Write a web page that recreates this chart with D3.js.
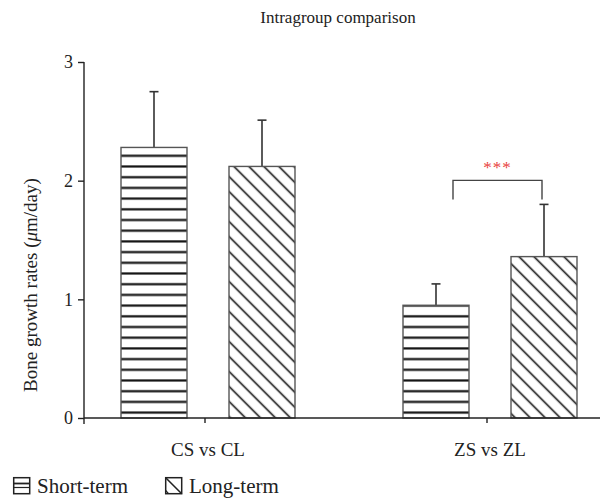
<!DOCTYPE html>
<html>
<head>
<meta charset="utf-8">
<script src="https://cdn.jsdelivr.net/npm/d3@7"></script>
<style>
  html, body { margin: 0; padding: 0; background: #fff; }
  svg { display: block; }
  text { font-family: "Liberation Serif", "DejaVu Serif", serif; fill: #222; }
</style>
</head>
<body>
<svg id="chart" width="604" height="500"></svg>
<script>
// ---- data ----
const groups = ["CS vs CL", "ZS vs ZL"];
const seriesNames = ["Short-term", "Long-term"];
const meanValues = [
  [2.28, 2.12],   // CS, CL
  [0.95, 1.36]    // ZS, ZL
];
const sdValues = [
  [0.47, 0.39],
  [0.18, 0.44]
];
const yTicks = [0, 1, 2, 3];
const title = "Intragroup comparison";
const significance = { group: "ZS vs ZL", label: "***" };

// ---- layout ----
const svg = d3.select("#chart");
const margin = { left: 84, right: 4, top: 62, bottom: 82 };
const W = 604, H = 500;
const plotBottom = H - margin.bottom; // 418
const axisColor = "#222";

const y = d3.scaleLinear().domain([0, 3]).range([plotBottom, margin.top]);
const x0 = d3.scaleBand().domain(groups).range([67, 631]).padding(0);
const x1 = d3.scaleBand().domain(seriesNames).range([0, x0.bandwidth()])
  .paddingInner(0.389).paddingOuter(0.5);

// ---- patterns ----
const defs = svg.append("defs");
const ph = defs.append("pattern").attr("id", "hatchH")
  .attr("patternUnits", "userSpaceOnUse").attr("width", 20).attr("height", 10.7)
  .attr("y", y(0));
ph.append("rect").attr("width", 20).attr("height", 10.7).attr("fill", "#fff");
ph.append("line").attr("x1", 0).attr("x2", 20).attr("y1", 5.3).attr("y2", 5.3)
  .attr("stroke", "#111").attr("stroke-width", 2.2);

const pd = defs.append("pattern").attr("id", "hatchD")
  .attr("patternUnits", "userSpaceOnUse").attr("width", 20).attr("height", 10.6)
  .attr("patternTransform", "rotate(45)");
pd.append("rect").attr("width", 20).attr("height", 10.6).attr("fill", "#fff");
pd.append("line").attr("x1", 0).attr("x2", 20).attr("y1", 5.3).attr("y2", 5.3)
  .attr("stroke", "#111").attr("stroke-width", 1.6);

const fills = { "Short-term": "url(#hatchH)", "Long-term": "url(#hatchD)" };

// ---- title ----
svg.append("text").attr("x", 338).attr("y", 23).attr("text-anchor", "middle")
  .style("font-size", "17px").text(title);

// ---- bars ----
const g = svg.append("g");
groups.forEach((grp, gi) => {
  seriesNames.forEach((s, si) => {
    const v = meanValues[gi][si], sd = sdValues[gi][si];
    const bx = x0(grp) + x1(s), bw = x1.bandwidth();
    const cx = bx + bw / 2;
    g.append("line").attr("x1", cx).attr("x2", cx)
      .attr("y1", y(v)).attr("y2", y(v + sd))
      .attr("stroke", "#333").attr("stroke-width", 1.6);
    g.append("line").attr("x1", cx - 4.5).attr("x2", cx + 4.5)
      .attr("y1", y(v + sd)).attr("y2", y(v + sd))
      .attr("stroke", "#333").attr("stroke-width", 1.6);
    g.append("rect").attr("x", bx).attr("y", y(v))
      .attr("width", bw).attr("height", y(0) - y(v))
      .attr("fill", fills[s]).attr("stroke", "#555").attr("stroke-width", 1.4);
  });
});

// ---- axes ----
const yAxis = svg.append("g").attr("transform", `translate(${margin.left},0)`)
  .call(d3.axisLeft(y).tickValues(yTicks).tickFormat(d3.format("d")).tickSize(6).tickPadding(5));
yAxis.select(".domain").attr("d", `M0,${y(3)}V${y(0) + 6}`);
yAxis.selectAll("path, line").attr("stroke", axisColor).attr("stroke-width", 1.4);
yAxis.selectAll("text").style("font-size", "18px").style("font-family", "Liberation Serif").attr("fill", "#222");

const xAxis = svg.append("g").attr("transform", `translate(0,${plotBottom})`)
  .call(d3.axisBottom(x0).tickSize(5).tickPadding(20));
xAxis.select(".domain").attr("d", `M${margin.left},0H${W - 4}`);
xAxis.selectAll("path, line").attr("stroke", axisColor).attr("stroke-width", 1.4);
xAxis.selectAll(".tick line").attr("transform", "translate(-3,0)");
xAxis.selectAll("text").style("font-size", "19px").style("font-family", "Liberation Serif").attr("fill", "#222");

// y label
const yl = svg.append("text")
  .attr("transform", `translate(37,${285}) rotate(-90)`)
  .attr("text-anchor", "middle").style("font-size", "19px");
yl.append("tspan").text("Bone growth rates (");
yl.append("tspan").style("font-style", "italic").text("μ");
yl.append("tspan").text("m/day)");

// ---- significance bracket ----
const sgi = groups.indexOf(significance.group);
const xa = x0(significance.group) + x1(seriesNames[0]) + x1.bandwidth() / 2 + 17;
const xb = x0(significance.group) + x1(seriesNames[1]) + x1.bandwidth() / 2 - 2;
const sigTop = y(Math.max(...meanValues[sgi].map((v, i) => v + sdValues[sgi][i])));
svg.append("path")
  .attr("d", `M${xa},${sigTop - 5}V${sigTop - 24}H${xb}V${sigTop - 5}`)
  .attr("fill", "none").attr("stroke", "#444").attr("stroke-width", 1.4);
svg.append("text").attr("x", (xa + xb) / 2).attr("y", sigTop - 31)
  .attr("text-anchor", "middle").style("font-size", "17px").style("fill", "#e8413c")
  .style("letter-spacing", "1px").text(significance.label);

// ---- legend ----
const leg = svg.append("g");
const legX = [13, 165];
seriesNames.forEach((s, i) => {
  const lx = legX[i], ly = 477;
  const lg = leg.append("g").attr("transform", `translate(${lx},${ly})`);
  lg.append("rect").attr("x", 0.7).attr("y", 0.7).attr("width", 16).attr("height", 16)
    .attr("fill", "#fff").attr("stroke", "#222").attr("stroke-width", 1.5);
  if (i === 0) {
    lg.append("line").attr("x1", 0.7).attr("x2", 16.7).attr("y1", 6.5).attr("y2", 6.5)
      .attr("stroke", "#222").attr("stroke-width", 1.8);
    lg.append("line").attr("x1", 0.7).attr("x2", 16.7).attr("y1", 10.5).attr("y2", 10.5)
      .attr("stroke", "#222").attr("stroke-width", 1.2);
  } else {
    lg.append("line").attr("x1", 0.7).attr("x2", 16.7).attr("y1", 0.7).attr("y2", 16.7)
      .attr("stroke", "#222").attr("stroke-width", 1.6);
    lg.append("line").attr("x1", 0.7).attr("x2", 3.5).attr("y1", 13.5).attr("y2", 16.7)
      .attr("stroke", "#222").attr("stroke-width", 1.2);
  }
  lg.append("text").attr("x", 24).attr("y", 16).style("font-size", "21px").text(s);
});
</script>
</body>
</html>
